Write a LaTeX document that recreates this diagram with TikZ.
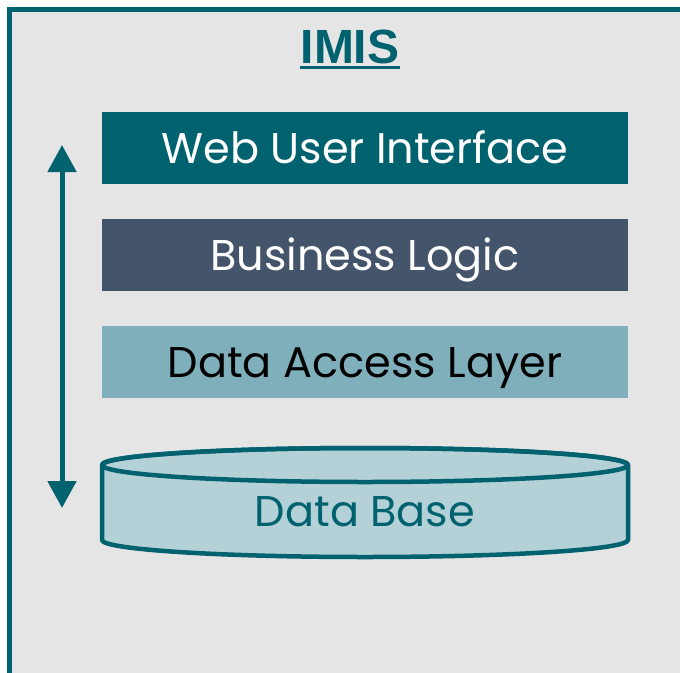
\documentclass[tikz,border=0pt]{standalone}
\usepackage{fontspec}
\setmainfont{Poppins}
\newfontfamily\titlefont{Liberation Sans}
\usetikzlibrary{arrows.meta}
\definecolor{tealc}{HTML}{00626F}
\definecolor{slatec}{HTML}{44546A}
\definecolor{lightc}{HTML}{7FAFBA}
\definecolor{dbc}{HTML}{B4D1D7}
\definecolor{framebg}{HTML}{E5E5E5}
\tikzset{
  layer/.style={rectangle, inner sep=0pt, minimum width=526pt, minimum height=72pt,
    font=\fontsize{43}{50}\selectfont, text height=30pt, text depth=0pt},
  titlestyle/.style={inner sep=0pt, anchor=base, text=tealc,
    font=\titlefont\bfseries\fontsize{48}{56}\selectfont},
  arr/.style={tealc, line width=5pt, {Triangle[length=27pt,width=28pt]}-{Triangle[length=27pt,width=28pt]}},
  dbline/.style={tealc, line width=4.5pt, line join=round}
}
\begin{document}
\begin{tikzpicture}[x=1pt,y=-1pt]
\useasboundingbox (0,0) rectangle (680,672);
\fill[white] (0,0) rectangle (680,672);
\draw[tealc, line width=5pt, fill=framebg] (9,9) rectangle (700,700);
\node[titlestyle] (title) at (350,63) {IMIS};
\draw[tealc, line width=3pt] ([yshift=-4.5pt]title.base west) -- ([yshift=-4.5pt]title.base east);
\node[layer, fill=tealc, text=white] (web) at (365,148) {Web User Interface};
\node[layer, fill=slatec, text=white] (biz) at (365,255) {Business Logic};
\node[layer, fill=lightc, text=black] (dal) at (365,362) {Data Access Layer};
% database cylinder
\filldraw[dbline, fill=dbc] (102,465) -- (102,540)
  .. controls (102,549.4) and (219.7,557) .. (365,557)
  .. controls (510.3,557) and (628,549.4) .. (628,540)
  -- (628,465)
  .. controls (628,455.6) and (510.3,448) .. (365,448)
  .. controls (219.7,448) and (102,455.6) .. (102,465) -- cycle;
\draw[dbline] (365,465) ellipse[x radius=263, y radius=17];
\node[inner sep=0pt, text=tealc, font=\fontsize{43}{50}\selectfont, text height=30pt, text depth=0pt] (db) at (365,511) {Data Base};
\coordinate (atop) at (62,145);
\coordinate (abot) at (62,508);
\draw[arr] (atop) -- (abot);
\end{tikzpicture}
\end{document}
